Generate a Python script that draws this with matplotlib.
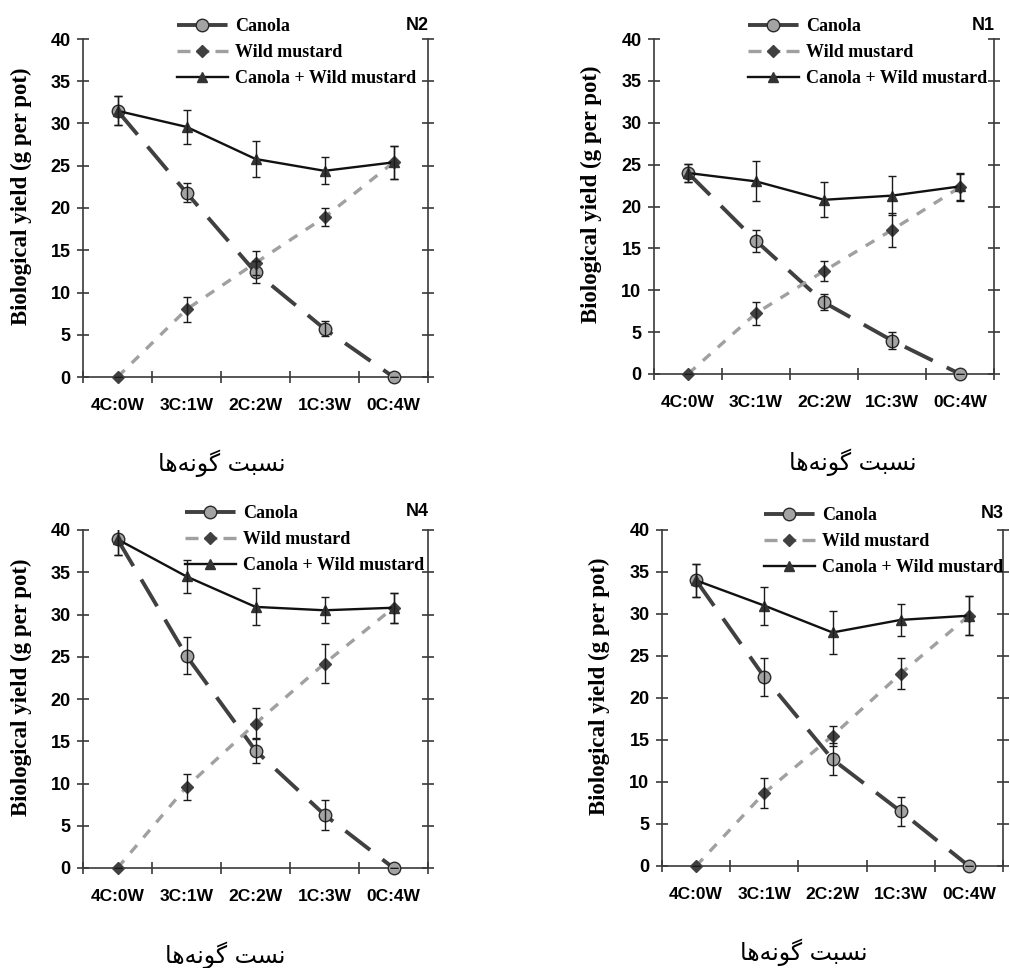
import numpy as np
import matplotlib
matplotlib.use("Agg")
import matplotlib.pyplot as plt
from matplotlib.font_manager import FontProperties
from matplotlib.lines import Line2D

# ---------------- data ----------------
categories = ["4C:0W", "3C:1W", "2C:2W", "1C:3W", "0C:4W"]
series_names = ["Canola", "Wild mustard", "Canola + Wild mustard"]

# N2 (top-left)
n2_canola = [31.5, 21.8, 12.4, 5.7, 0.0]
n2_canola_err = [1.7, 1.1, 1.3, 0.9, 0.0]
n2_wild = [0.0, 8.0, 13.5, 18.9, 25.4]
n2_wild_err = [0.0, 1.5, 1.4, 1.05, 1.95]
n2_total = [31.5, 29.6, 25.8, 24.4, 25.4]
n2_total_err = [1.7, 2.0, 2.15, 1.6, 1.95]

# N1 (top-right)
n1_canola = [24.0, 15.9, 8.55, 4.0, 0.0]
n1_canola_err = [1.1, 1.3, 0.95, 1.05, 0.0]
n1_wild = [0.0, 7.25, 12.3, 17.2, 22.3]
n1_wild_err = [0.0, 1.35, 1.15, 2.0, 1.6]
n1_total = [24.0, 23.0, 20.8, 21.3, 22.4]
n1_total_err = [1.1, 2.4, 2.1, 2.3, 1.6]

# N4 (bottom-left)
n4_canola = [38.9, 25.1, 13.9, 6.3, 0.0]
n4_canola_err = [1.85, 2.2, 1.5, 1.75, 0.0]
n4_wild = [0.0, 9.6, 17.1, 24.2, 30.8]
n4_wild_err = [0.0, 1.5, 1.8, 2.3, 1.8]
n4_total = [38.9, 34.5, 30.9, 30.5, 30.8]
n4_total_err = [1.85, 1.9, 2.2, 1.55, 1.8]

# N3 (bottom-right)
n3_canola = [34.0, 22.5, 12.7, 6.5, 0.0]
n3_canola_err = [2.0, 2.3, 1.9, 1.7, 0.0]
n3_wild = [0.0, 8.7, 15.5, 22.9, 29.8]
n3_wild_err = [0.0, 1.75, 1.2, 1.85, 2.35]
n3_total = [34.0, 31.0, 27.8, 29.3, 29.8]
n3_total_err = [2.0, 2.25, 2.6, 1.9, 2.35]

y_ticks = [0, 5, 10, 15, 20, 25, 30, 35, 40]
y_label = "Biological yield (g per pot)"
x_label_main = "نسبت گونه‌ها"
x_label_n4 = "نست گونه‌ها"

# --------------- simple Persian shaping (matplotlib has no text shaping) ---------------
_forms = {  # iso, fin, ini, med
    'ا': ('\uFE8D', '\uFE8E', None, None),
    'و': ('\uFEED', '\uFEEE', None, None),
    'ب': ('\uFE8F', '\uFE90', '\uFE91', '\uFE92'),
    'ت': ('\uFE95', '\uFE96', '\uFE97', '\uFE98'),
    'س': ('\uFEB1', '\uFEB2', '\uFEB3', '\uFEB4'),
    'ن': ('\uFEE5', '\uFEE6', '\uFEE7', '\uFEE8'),
    'ه': ('\uFEE9', '\uFEEA', '\uFEEB', '\uFEEC'),
    'گ': ('\uFB92', '\uFB93', '\uFB94', '\uFB95'),
}


def shape_fa(s):
    out = []
    n = len(s)
    for i, ch in enumerate(s):
        if ch not in _forms:
            if ch != '\u200c':
                out.append(ch)
            continue
        f = _forms[ch]
        prev = s[i - 1] if i > 0 else ''
        nxt = s[i + 1] if i + 1 < n else ''
        jp = prev in _forms and _forms[prev][2] is not None
        jn = f[2] is not None and nxt in _forms
        if jp and jn:
            out.append(f[3])
        elif jn:
            out.append(f[2])
        elif jp:
            out.append(f[1])
        else:
            out.append(f[0])
    return ''.join(reversed(out))


# ---------------- figure ----------------
plt.rcParams['font.family'] = ['Liberation Sans', 'DejaVu Sans']
plt.rcParams['font.weight'] = 'bold'

W, H = 1010, 968
fig = plt.figure(figsize=(W / 100, H / 100), dpi=100)


def fx(px):
    return px / W


def fy(py):
    return 1 - py / H


panels = [
    # name, (left, right, top40, bottom0) px, data, legend(xhandle, ytop), ylabel x, persian label (x,y), text
    ("N2", (83, 428, 39, 377), (n2_canola, n2_canola_err, n2_wild, n2_wild_err, n2_total, n2_total_err),
     (177, 18), 21, (222, 463), x_label_main),
    ("N1", (654, 994, 39, 374), (n1_canola, n1_canola_err, n1_wild, n1_wild_err, n1_total, n1_total_err),
     (748, 18), 591, (853, 462), x_label_main),
    ("N4", (83, 428, 530, 868), (n4_canola, n4_canola_err, n4_wild, n4_wild_err, n4_total, n4_total_err),
     (185, 505), 21, (225, 955), x_label_n4),
    ("N3", (662, 1003, 530, 866), (n3_canola, n3_canola_err, n3_wild, n3_wild_err, n3_total, n3_total_err),
     (764, 507), 599, (804, 952), x_label_main),
]

axis_col = '#3a3a3a'
x = np.arange(len(categories)) + 0.5
leg_font = FontProperties(family='Liberation Serif', weight='bold', size=13)
ylab_font = FontProperties(family='Liberation Serif', weight='bold', size=16.5)

canola_style = dict(color='#404040', lw=2.8, marker='o', markersize=9,
                    markerfacecolor='#a3a3a3', markeredgecolor='#2a2a2a',
                    markeredgewidth=1.0)
wild_style = dict(color='#a0a0a0', lw=2.4, marker='D', markersize=6.5,
                  markerfacecolor='#404040', markeredgecolor='#404040')
total_style = dict(color='#111111', lw=1.7, marker='^', markersize=6.5,
                   markerfacecolor='#333333', markeredgecolor='#333333')

for name, (l, r, t, b), data, (lx, ly), ylx, (px, py), xl in panels:
    ax = fig.add_axes([fx(l), fy(b), fx(r - l), (b - t) / H])
    c, ce, w, we, tot, te = data

    ax.plot(x, c, linestyle=(0, (8, 4)), clip_on=False, zorder=3, **canola_style)
    ax.errorbar(x, c, yerr=ce, fmt='none', ecolor='#1a1a1a', elinewidth=1.0,
                capsize=3.2, capthick=1.0, zorder=4)
    ax.plot(x, w, linestyle=(0, (3, 3)), clip_on=False, zorder=3, **wild_style)
    ax.errorbar(x, w, yerr=we, fmt='none', ecolor='#1a1a1a', elinewidth=1.0,
                capsize=3.2, capthick=1.0, zorder=4)
    ax.plot(x, tot, linestyle='-', clip_on=False, zorder=5, **total_style)
    ax.errorbar(x, tot, yerr=te, fmt='none', ecolor='#1a1a1a', elinewidth=1.0,
                capsize=3.2, capthick=1.0, zorder=6)

    ax.set_xlim(0, 5)
    ax.set_ylim(0, 40)
    ax.set_yticks(y_ticks)
    ax.set_yticklabels([str(v) for v in y_ticks])
    ax.set_xticks(np.arange(6))
    ax.set_xticklabels([])
    ax.set_xticks(x, minor=True)
    ax.set_xticklabels(categories, minor=True)

    for side in ('left', 'right', 'bottom'):
        ax.spines[side].set_color(axis_col)
        ax.spines[side].set_linewidth(1.2)
    ax.spines['top'].set_visible(False)
    ax.patch.set_visible(False)

    ax.tick_params(axis='y', which='major', direction='inout', length=8, width=1.2,
                   color=axis_col, left=True, right=True, labelsize=13, pad=5)
    ax.tick_params(axis='x', which='major', direction='inout', length=8, width=1.2,
                   color=axis_col)
    ax.tick_params(axis='x', which='minor', length=0, pad=15, labelsize=12.5)
    for lab in ax.get_yticklabels() + ax.get_xticklabels(minor=True):
        lab.set_fontweight('bold')

    # legend proxies (same styles, Excel-like dash pattern in the key)
    p1 = Line2D([], [], linestyle=(0, (5.5, 2)), **canola_style)
    p2 = Line2D([], [], linestyle=(0, (3.9, 1.8)), **wild_style)
    p3 = Line2D([], [], linestyle='-', **total_style)
    leg = ax.legend([p1, p2, p3], series_names, loc='upper left',
                    bbox_to_anchor=(fx(lx), fy(ly)), bbox_transform=fig.transFigure,
                    frameon=False, prop=leg_font, handlelength=2.8, handletextpad=0.4,
                    labelspacing=0.5, borderpad=0, borderaxespad=0, numpoints=1)
    leg.set_zorder(10)

    fig.text(fx(r + 1), fy(ly + 7), name, ha='right', va='center',
             fontsize=13, fontweight='bold', family='Liberation Sans')

    fig.text(fx(ylx), fy((t + b) / 2 - 12), y_label, rotation=90, ha='center',
             va='center', fontproperties=ylab_font)

    fig.text(fx(px), fy(py), shape_fa(xl), ha='center', va='center',
             fontsize=17, fontweight='normal', family=['DejaVu Sans'])

fig.savefig("out.png", dpi=100)
